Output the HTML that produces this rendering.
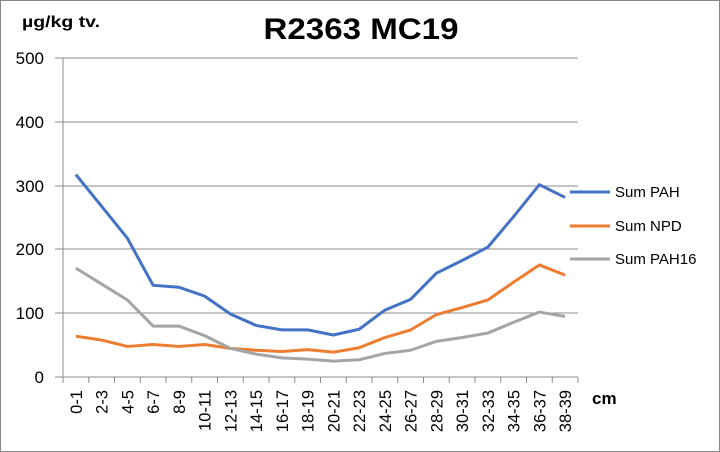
<!DOCTYPE html>
<html><head><meta charset="utf-8"><style>html,body{margin:0;padding:0;background:#fff}svg{display:block}</style></head>
<body>
<svg width="720" height="452" xmlns="http://www.w3.org/2000/svg" font-family="Liberation Sans, Arial, sans-serif">
<rect x="0.5" y="0.5" width="719" height="451" fill="#fff" stroke="#888"/>
<text x="361" y="39" font-size="30" font-weight="bold" text-anchor="middle" textLength="195" lengthAdjust="spacingAndGlyphs">R2363 MC19</text>
<text x="22" y="27" font-size="16" font-weight="bold" textLength="78" lengthAdjust="spacingAndGlyphs">µg/kg tv.</text>
<g stroke="#8c8c8c" stroke-width="1">
<line x1="55" y1="58" x2="578" y2="58"/>
<line x1="55" y1="122" x2="578" y2="122"/>
<line x1="55" y1="186" x2="578" y2="186"/>
<line x1="55" y1="249" x2="578" y2="249"/>
<line x1="55" y1="313" x2="578" y2="313"/>
<line x1="55" y1="377" x2="578" y2="377"/>
<line x1="63" y1="58" x2="63" y2="377"/>
</g>
<g stroke="#8c8c8c" id="ticks"></g>
<g font-size="17" text-anchor="end" fill="#000">
<text x="44" y="64">500</text><text x="44" y="128">400</text><text x="44" y="192">300</text>
<text x="44" y="255">200</text><text x="44" y="319">100</text><text x="44" y="383">0</text>
</g>
<g id="xl" font-size="16.5" text-anchor="end"></g>
<text x="592" y="404" font-size="17" font-weight="bold">cm</text>
<g fill="none" stroke-width="3" stroke-linejoin="round">
<polyline id="p1" stroke="#4472c4"/>
<polyline id="p2" stroke="#ed7d31"/>
<polyline id="p3" stroke="#a5a5a5"/>
</g>
<line x1="570" y1="192" x2="610" y2="192" stroke="#4472c4" stroke-width="3"/>
<line x1="570" y1="226" x2="610" y2="226" stroke="#ed7d31" stroke-width="3"/>
<line x1="570" y1="259" x2="610" y2="259" stroke="#a5a5a5" stroke-width="3"/>
<g font-size="15"><text x="615" y="197">Sum PAH</text><text x="615" y="231">Sum NPD</text><text x="615" y="264">Sum PAH16</text></g>
<script>
var ns="http://www.w3.org/2000/svg",st=25.75;
function X(i){return 63+st*(i+0.5)}function Y(v){return 377-v*0.6367}
var t=document.getElementById("ticks");
for(var i=0;i<=20;i++){var l=document.createElementNS(ns,"line");var x=63+st*i;l.setAttribute("x1",x);l.setAttribute("x2",x);l.setAttribute("y1",377);l.setAttribute("y2",383);t.appendChild(l);}
var xl=document.getElementById("xl");
for(var i=0;i<20;i++){var a=2*i,tx=document.createElementNS(ns,"text");tx.textContent=a+"-"+(a+1);tx.setAttribute("transform","translate("+(X(i)+6)+",390) rotate(-90)");xl.appendChild(tx);}
var d=[[318,268,218,144,141,127,99,81,74,74,66,75,105,122,163,183,204,252,302,282],
[64,58,48,51,48,51,45,42,40,43,39,46,62,74,98,109,121,149,176,160],
[171,146,121,80,80,65,45,36,30,28,25,27,37,42,56,62,69,86,102,95]];
for(var k=0;k<3;k++){document.getElementById("p"+(k+1)).setAttribute("points",d[k].map(function(v,i){return X(i)+","+Y(v)}).join(" "));}
</script>
</svg>
</body></html>
